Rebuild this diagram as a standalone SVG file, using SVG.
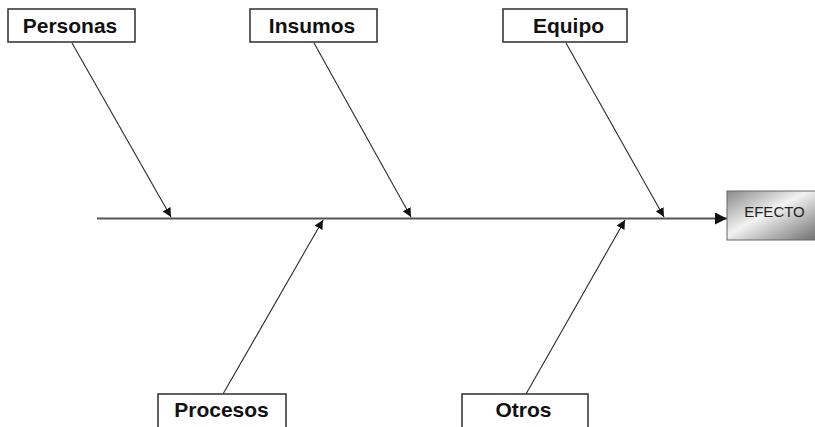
<svg xmlns="http://www.w3.org/2000/svg" width="815" height="427" viewBox="0 0 815 427">
  <style>
    .box { fill: #ffffff; stroke: #3a3a3a; stroke-width: 1.6; }
    .lbl { font-family: "Liberation Sans", Arial, sans-serif; font-weight: bold; font-size: 21px; fill: #111; text-anchor: middle; }
    .bone { stroke: #2a2a2a; stroke-width: 1.1; fill: none; marker-end: url(#tip); }
    .spine { stroke: #555; stroke-width: 2.2; fill: none; marker-end: url(#tipBig); }
  </style>
  <defs>
    <marker id="tip" viewBox="0 0 10 10" refX="10" refY="5" markerWidth="9" markerHeight="9" markerUnits="userSpaceOnUse" orient="auto">
      <path d="M0,0 L10,5 L0,10 z" fill="#111"/>
    </marker>
    <marker id="tipBig" viewBox="0 0 10 10" refX="10" refY="5" markerWidth="12" markerHeight="12" markerUnits="userSpaceOnUse" orient="auto">
      <path d="M0,0 L10,5 L0,10 z" fill="#111"/>
    </marker>
    <linearGradient id="effectFill" x1="0" y1="0" x2="1" y2="1">
      <stop offset="0" stop-color="#8a8a8a"/>
      <stop offset="0.45" stop-color="#f2f2f2"/>
      <stop offset="1" stop-color="#6e6e6e"/>
    </linearGradient>
  </defs>

  <rect width="815" height="427" fill="#ffffff"/>

  <g id="connectors">
    <line class="spine" x1="97" y1="218.5" x2="727" y2="218.5"/>
    <line class="bone" x1="72" y1="43" x2="171" y2="217"/>
    <line class="bone" x1="314" y1="43" x2="411" y2="217"/>
    <line class="bone" x1="566" y1="43" x2="664" y2="217"/>
    <line class="bone" x1="223" y1="394" x2="323" y2="220"/>
    <line class="bone" x1="526" y1="394" x2="625" y2="220"/>
  </g>

  <g id="personas">
    <rect class="box" x="8" y="9" width="127" height="33"/>
    <text class="lbl" x="70" y="32.5">Personas</text>
  </g>
  <g id="insumos">
    <rect class="box" x="250" y="9" width="127" height="33"/>
    <text class="lbl" x="312" y="32.5">Insumos</text>
  </g>
  <g id="equipo">
    <rect class="box" x="503" y="9" width="124" height="33"/>
    <text class="lbl" x="568.5" y="32.5">Equipo</text>
  </g>
  <g id="procesos">
    <rect class="box" x="158" y="394" width="128" height="40"/>
    <text class="lbl" x="221.5" y="416.5">Procesos</text>
  </g>
  <g id="otros">
    <rect class="box" x="462" y="394" width="126" height="40"/>
    <text class="lbl" x="523.5" y="416.5">Otros</text>
  </g>
  <g id="efecto">
    <rect x="727" y="191" width="90" height="49" fill="url(#effectFill)" stroke="#666" stroke-width="1"/>
    <text x="774.5" y="217" font-family="'Liberation Sans', Arial, sans-serif" font-size="15" fill="#222" text-anchor="middle">EFECTO</text>
  </g>
</svg>
